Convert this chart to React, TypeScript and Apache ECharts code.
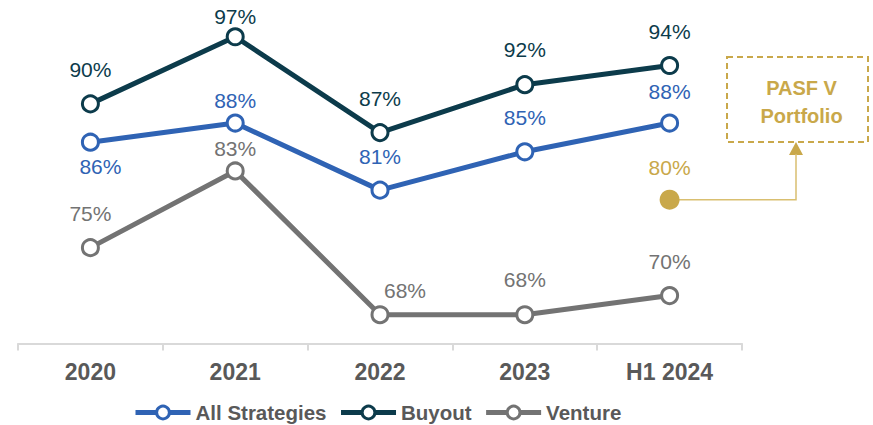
import React, { useEffect, useRef } from "react";
import * as echarts from "echarts";

const categories = ["2020", "2021", "2022", "2023", "H1 2024"];
const allStrategies = [86, 88, 81, 85, 88];
const buyout = [90, 97, 87, 92, 94];
const venture = [75, 83, 68, 68, 70];
const pasf = [null, null, null, null, 80];

const BLUE = "#2F63B4";
const DARK = "#0C3B4B";
const GRAY = "#737373";
const GOLD = "#C9A84A";
const TEXT = "#595959";
const FONT = "'Liberation Sans', Arial, sans-serif";

// per-point label placement tweaks: [position, distance, offsetX]
const allLabelTweaks: [string, number, number][] = [
  ["bottom", 4, 10],
  ["top", 3, 0],
  ["top", 14, 0],
  ["top", 14, 0],
  ["top", 12, 0],
];
const buyoutLabelTweaks: [string, number, number][] = [
  ["top", 14, 0],
  ["top", 0, 0],
  ["top", 14, 0],
  ["top", 15, 0],
  ["top", 14, 0],
];
const ventureLabelTweaks: [string, number, number][] = [
  ["top", 14, 0],
  ["top", 2, 0],
  ["top", 4, 25],
  ["top", 15, 0],
  ["top", 14, 0],
];

function buildData(values: number[], tweaks: [string, number, number][], color: string) {
  return values.map((v, i) => ({
    value: v,
    label: {
      show: true,
      position: tweaks[i][0],
      distance: tweaks[i][1],
      offset: [tweaks[i][2], 0],
      color,
      fontSize: 21,
      fontFamily: FONT,
      formatter: "{c}%",
    },
  }));
}

function lineSeries(name: string, values: number[], tweaks: [string, number, number][], color: string, z: number) {
  return {
    name,
    type: "line",
    data: buildData(values, tweaks, color),
    symbol: "circle",
    symbolSize: 16,
    z,
    lineStyle: { color, width: 5 },
    itemStyle: { color: "#ffffff", borderColor: color, borderWidth: 3 },
    emphasis: { disabled: true },
  };
}

export default function App() {
  const ref = useRef<HTMLDivElement>(null);
  useEffect(() => {
    if (!ref.current) return;
    const chart = echarts.init(ref.current, undefined, { renderer: "svg" });
    chart.setOption({
      animation: false,
      grid: { left: 18, right: 131, top: 8, bottom: 81.5, containLabel: false },
      xAxis: {
        type: "category",
        data: categories,
        boundaryGap: true,
        axisLine: { lineStyle: { color: "#D9D9D9", width: 2 } },
        axisTick: { show: true, length: 7, lineStyle: { color: "#D9D9D9", width: 2 } },
        axisLabel: { color: TEXT, fontSize: 23, fontWeight: "bold", fontFamily: FONT, margin: 17 },
      },
      yAxis: { type: "value", min: 65, max: 100, show: false, splitLine: { show: false } },
      legend: {
        data: ["All Strategies", "Buyout", "Venture"],
        left: 133,
        top: 402,
        padding: 0,
        itemWidth: 55,
        itemHeight: 16,
        itemGap: 12,
        lineStyle: { width: 5 },
        itemStyle: { borderWidth: 3 },
        textStyle: { color: TEXT, fontSize: 20.5, fontWeight: "bold", fontFamily: FONT },
      },
      series: [
        lineSeries("Venture", venture, ventureLabelTweaks, GRAY, 2),
        lineSeries("All Strategies", allStrategies, allLabelTweaks, BLUE, 3),
        lineSeries("Buyout", buyout, buyoutLabelTweaks, DARK, 4),
        {
          name: "PASF V Portfolio",
          type: "line",
          data: pasf,
          symbol: "circle",
          symbolSize: 20,
          lineStyle: { width: 0 },
          itemStyle: { color: GOLD },
          label: {
            show: true,
            position: "top",
            distance: 12,
            color: GOLD,
            fontSize: 21,
            fontFamily: FONT,
            formatter: "{c}%",
          },
          emphasis: { disabled: true },
          z: 5,
        },
      ],
    });
    const p = chart.convertToPixel({ seriesIndex: 3 }, [4, 80]) as number[];
    const ax = 796;
    const boxX = 727, boxY = 57, boxW = 141, boxH = 85;
    chart.setOption({
      graphic: [
        {
          type: "polyline",
          shape: { points: [[p[0] + 8, p[1]], [ax, p[1]], [ax, boxY + boxH + 12]] },
          style: { stroke: "#D9BF70", lineWidth: 1.5, fill: null },
          z: 1,
        },
        {
          type: "polygon",
          shape: { points: [[ax - 7, boxY + boxH + 13], [ax + 7, boxY + boxH + 13], [ax, boxY + boxH]] },
          style: { fill: GOLD },
        },
        {
          type: "rect",
          shape: { x: boxX, y: boxY, width: boxW, height: boxH },
          style: { fill: "#ffffff", stroke: GOLD, lineWidth: 2, lineDash: [6, 4] },
        },
        {
          type: "text",
          x: boxX + boxW / 2 + 4,
          y: boxY + boxH / 2 + 2,
          style: {
            text: "PASF V\nPortfolio",
            fill: GOLD,
            fontSize: 20,
            fontWeight: "bold",
            fontFamily: FONT,
            lineHeight: 28,
            align: "center",
            verticalAlign: "middle",
          },
        },
      ],
    });
    return () => chart.dispose();
  }, []);
  return <div ref={ref} style={{ position: "absolute", left: 0, top: 0, width: 873, height: 425 }} />;
}
